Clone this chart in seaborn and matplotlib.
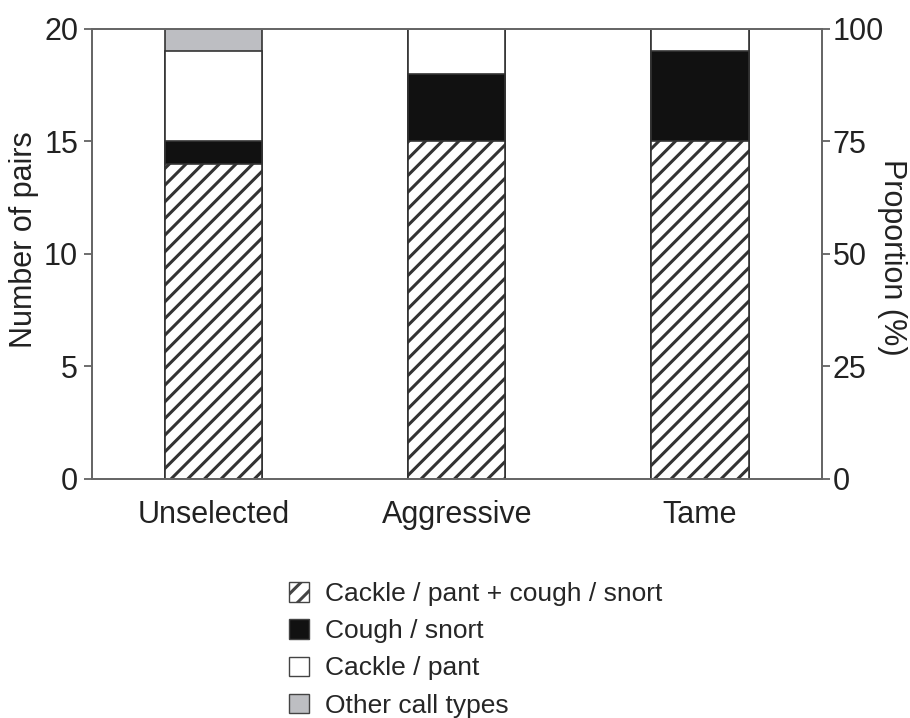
import numpy as np
import pandas as pd
import seaborn as sns
import matplotlib.pyplot as plt
from matplotlib.patches import Patch

groups = ['Unselected', 'Aggressive', 'Tame']
both_calls = [14, 15, 15]      # cackle/pant + cough/snort
cough_snort = [1, 3, 4]
cackle_pant = [4, 2, 1]
other_calls = [1, 0, 0]

layer_names = ['Cackle / pant + cough / snort', 'Cough / snort', 'Cackle / pant', 'Other call types']
layer_colors = ['white', '#111111', 'white', '#bdbec2']
layer_hatch = ['//', None, None, None]

sns.set_style('white')
plt.rcParams['font.family'] = ['Liberation Sans', 'DejaVu Sans']
plt.rcParams['hatch.linewidth'] = 2.2

data = pd.DataFrame({'group': groups, 'l1': both_calls, 'l2': cough_snort,
                     'l3': cackle_pant, 'l4': other_calls})
# cumulative heights, drawn from the top layer down
cum = data[['l1', 'l2', 'l3', 'l4']].cumsum(axis=1)

fig = plt.figure(figsize=(9.1, 7.18), dpi=100)
ax = fig.add_axes([0.101, 0.333, 0.802, 0.627])

edge = '#333333'
for i in [3, 2, 1, 0]:
    col = cum.columns[i]
    sns.barplot(x=data.group, y=cum[col], ax=ax, color=layer_colors[i], width=0.4,
                edgecolor=edge, linewidth=1.2, hatch=layer_hatch[i], saturation=1)

ax.set_ylim(0, 20)
ax.set_xlim(-0.5, 2.5)
ax.set_yticks([0, 5, 10, 15, 20])
ax.set_xticks([0, 1, 2])
ax.set_xticklabels(groups, fontsize=22, color='#222222')
ax.set_xticks([0.5, 1.5], minor=True)
ax.tick_params(axis='x', which='major', length=0, pad=15)
ax.tick_params(axis='x', which='minor', length=6, direction='out', color='#555555', width=1.2)
ax.tick_params(axis='y', length=6, direction='out', labelsize=22, color='#555555', width=1.2,
               labelcolor='#222222', pad=4)
ax.set_xlabel('')
ax.set_ylabel('')
for s in ax.spines.values():
    s.set_color('#666666')
    s.set_linewidth(1.3)

ax2 = ax.twinx()
ax2.set_ylim(0, 100)
ax2.set_yticks([0, 25, 50, 75, 100])
ax2.tick_params(axis='y', length=6, direction='out', labelsize=22, color='#555555', width=1.2,
                labelcolor='#222222', pad=2)
for s in ax2.spines.values():
    s.set_color('#666666')
    s.set_linewidth(1.3)

fig.text(24 / 910, 1 - 240 / 718, 'Number of pairs', rotation=90, fontsize=22,
         color='#222222', ha='center', va='center')
fig.text(892 / 910, 1 - 257 / 718, 'Proportion (%)', rotation=270, fontsize=22,
         color='#222222', ha='center', va='center')

handles = [Patch(facecolor=layer_colors[i], edgecolor='#444444', hatch=layer_hatch[i], linewidth=1)
           for i in range(4)]
fig.legend(handles, layer_names, loc='upper left', bbox_to_anchor=(0.306, 0.204),
           frameon=False, fontsize=19, handlelength=0.75, handleheight=0.75,
           handletextpad=0.6, labelspacing=0.5, borderaxespad=0)

fig.savefig('out.png', dpi=100)
